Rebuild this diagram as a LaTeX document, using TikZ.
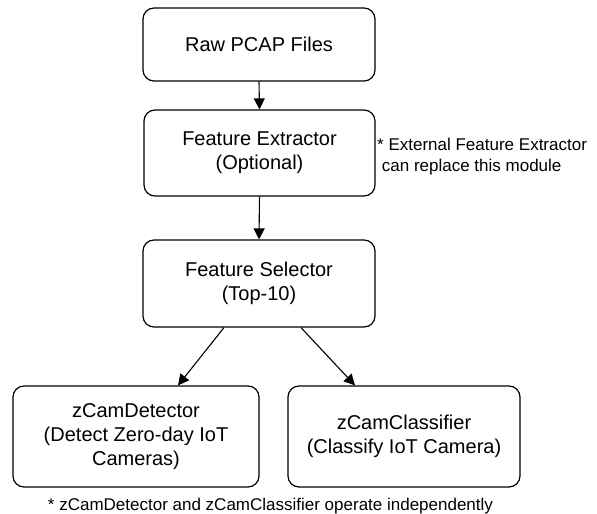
\documentclass[tikz,border=0pt]{standalone}
\usepackage{fontspec}
\setmainfont{Liberation Sans}
\usetikzlibrary{arrows.meta}
\begin{document}
\begin{tikzpicture}[x=1pt,y=-1pt,
  blk/.style={draw=black,line width=1.2pt,rounded corners=11pt,align=center,
    inner sep=0pt,font=\fontsize{20}{24}\selectfont},
  conn/.style={line width=1.1pt,-{Triangle[length=11pt,width=11pt]}},
  note/.style={inner sep=0pt,font=\fontsize{17}{21}\selectfont}]
\useasboundingbox (0,0) rectangle (597,514);
\node[blk,minimum width=232pt,minimum height=73pt] (raw) at (259,44.5) {Raw PCAP Files};
\node[blk,minimum width=231pt,minimum height=86pt] (ext) at (259.5,153) {Feature Extractor\\(Optional)};
\node[blk,minimum width=232pt,minimum height=87pt] (sel) at (259,283.5) {Feature Selector\\(Top-10)};
\node[blk,minimum width=246pt,minimum height=101pt] (det) at (136,436.5) {zCamDetector\\(Detect Zero-day IoT\\Cameras)};
\node[blk,minimum width=232pt,minimum height=101pt] (cls) at (404,436.5) {zCamClassifier\\(Classify IoT Camera)};
\node[note,align=left,anchor=west] (ann) at (377,157) {* External Feature Extractor\\\hspace{4.7pt}can replace this module};
\node[note,anchor=base] (cap) at (270.5,510) {* zCamDetector and zCamClassifier operate independently};
\draw[conn] (raw.south) -- (ext.north);
\draw[conn] (ext.south) -- (sel.north);
\draw[conn] ([xshift=-35pt]sel.south) -- ([xshift=42pt]det.north);
\draw[conn] ([xshift=42pt]sel.south) -- ([xshift=-49pt]cls.north);
\end{tikzpicture}
\end{document}
